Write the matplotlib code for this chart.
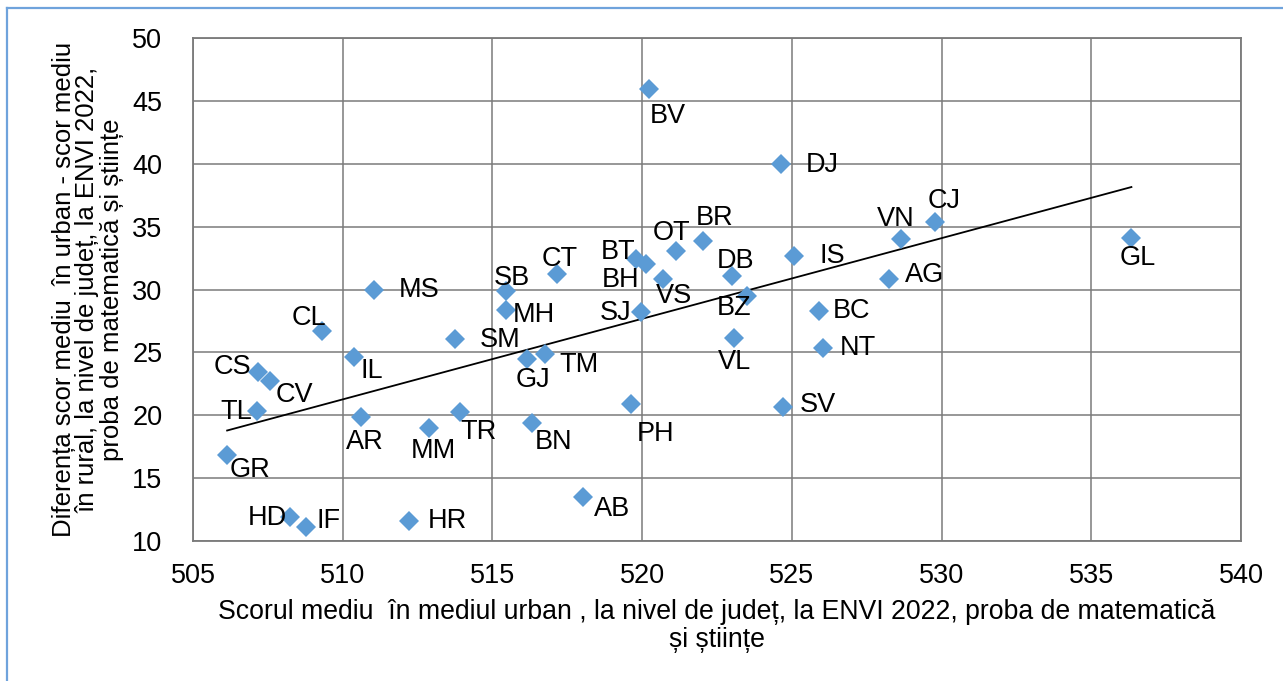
import numpy as np
import matplotlib
matplotlib.use("Agg")
import matplotlib.pyplot as plt
from matplotlib.lines import Line2D

plt.rcParams['font.family'] = ['Liberation Sans', 'DejaVu Sans']

# County codes with urban mean score (x) and urban-rural difference (y)
counties = ["BV", "DJ", "CJ", "VN", "IS", "BR", "OT", "BT", "BH", "VS",
            "DB", "BZ", "AG", "SJ", "BC", "VL", "NT", "PH", "SV", "AB",
            "GL", "MS", "CT", "SB", "MH", "CL", "SM", "GJ", "TM", "IL",
            "CS", "CV", "TL", "AR", "TR", "MM", "BN", "GR", "HD", "IF", "HR"]
urban_score = [520.24, 524.63, 529.78, 528.63, 525.07, 522.02, 521.12, 519.79, 520.13, 520.68,
               522.99, 523.49, 528.24, 519.97, 525.90, 523.07, 526.04, 519.62, 524.70, 518.04,
               536.34, 511.04, 517.16, 515.45, 515.45, 509.32, 513.74, 516.17, 516.77, 510.37,
               507.17, 507.56, 507.14, 510.60, 513.91, 512.89, 516.31, 506.14, 508.25, 508.76, 512.22]
score_gap = [45.94, 40.00, 35.35, 34.00, 32.67, 33.89, 33.09, 32.40, 32.03, 30.84,
             31.10, 29.48, 30.84, 28.18, 28.29, 26.11, 25.32, 20.88, 20.64, 13.48,
             34.10, 29.96, 31.23, 29.90, 28.37, 26.72, 26.06, 24.47, 24.84, 24.60,
             23.41, 22.71, 20.33, 19.87, 20.27, 19.00, 19.35, 16.82, 11.91, 11.11, 11.57]

x_ticks = [505, 510, 515, 520, 525, 530, 535, 540]
y_ticks = [10, 15, 20, 25, 30, 35, 40, 45, 50]

# Data label placement (pixel offset of the label centre from its marker)
label_offset = {
    "BV": (18, -27), "DJ": (41, -1), "CJ": (9, 21), "VN": (-5, 20), "IS": (38, 0),
    "BR": (12, 23), "OT": (-4, 18), "BT": (-18, 7), "BH": (-25, -16), "VS": (11, -17),
    "DB": (4, 15), "BZ": (-13, -12), "AG": (36, 4), "SJ": (-26, -1), "BC": (33, 0),
    "VL": (0, -24), "NT": (35, 0), "PH": (25, -30), "SV": (35, 2), "AB": (29, -12),
    "GL": (6, -20), "MS": (45, 0), "CT": (3, 15), "SB": (6, 13), "MH": (28, -5),
    "CL": (-13, 13), "SM": (45, -1), "GJ": (5, -21), "TM": (34, -11), "IL": (18, -14),
    "CS": (-26, 5), "CV": (25, -14), "TL": (-21, -1), "AR": (4, -25), "TR": (19, -20),
    "MM": (4, -23), "BN": (22, -19), "GR": (23, -15), "HD": (-23, -1), "IF": (23, 6),
    "HR": (38, 0),
}

W, H = 1283, 681
fig = plt.figure(figsize=(W / 100, H / 100), dpi=100)
fig.patch.set_facecolor("white")

L, R, T, B = 193, 1241, 38.3, 540.7
ax = fig.add_axes([L / W, 1 - B / H, (R - L) / W, (B - T) / H])

grid_col = "#7a7a7a"
ax.set_xlim(505, 540)
ax.set_ylim(10, 50)
ax.set_xticks(x_ticks)
ax.set_yticks(y_ticks)
ax.grid(True, color=grid_col, linewidth=1.1)
ax.set_axisbelow(True)
for s in ax.spines.values():
    s.set_color(grid_col)
    s.set_linewidth(1.3)
ax.tick_params(length=0, labelsize=19.5, colors="black")
ax.tick_params(axis="y", pad=22)
ax.tick_params(axis="x", pad=16)

# Linear trend line over the data range
coef = np.polyfit(urban_score, score_gap, 1)
xs = np.array([min(urban_score), max(urban_score)])
ax.plot(xs, np.polyval(coef, xs), color="black", linewidth=1.3, zorder=2)

ax.plot(urban_score, score_gap, linestyle="none", marker="D", markersize=9.7,
        color="#5B9BD5", markeredgewidth=0, zorder=3)

for name, xv, yv in zip(counties, urban_score, score_gap):
    dx, dy = label_offset[name]
    ax.annotate(name, (xv, yv), xytext=(dx, dy), textcoords="offset pixels",
                ha="center", va="center", fontsize=19.5, color="black", zorder=4)

ax.set_xlabel("Scorul mediu  în mediul urban , la nivel de județ, la ENVI 2022, proba de matematică\nși științe",
              fontsize=19.2, labelpad=7, linespacing=1.1)
ax.set_ylabel("Diferența scor mediu  în urban - scor mediu\nîn rural, la nivel de județ, la ENVI 2022,\nproba de matematică și științe",
              fontsize=18.5, labelpad=6, linespacing=1.0)

# Light blue chart frame
frame_col = "#6fa3dc"
fig.add_artist(Line2D([7 / W, 7 / W], [0, 1 - 8 / H], transform=fig.transFigure, color=frame_col, linewidth=1.6))
fig.add_artist(Line2D([7 / W, 1], [1 - 8 / H, 1 - 8 / H], transform=fig.transFigure, color=frame_col, linewidth=1.6))

fig.savefig("out.png", dpi=100)
